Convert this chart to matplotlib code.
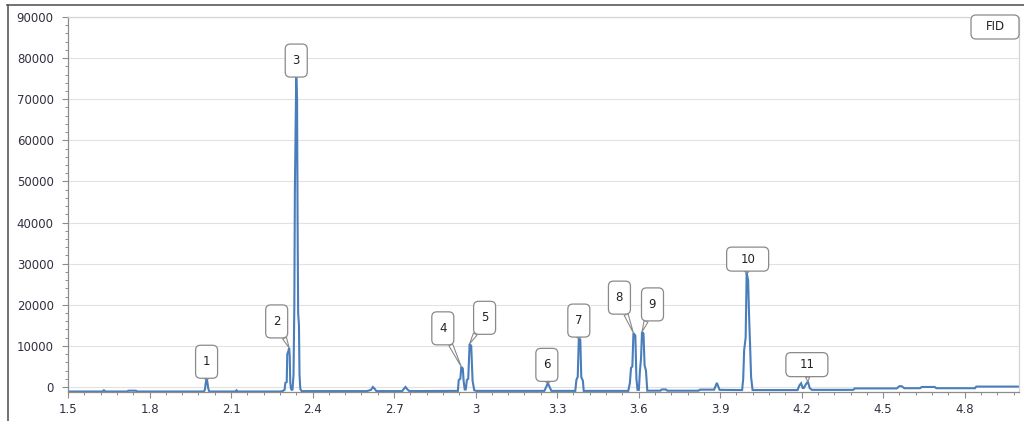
import numpy as np
import matplotlib
matplotlib.use('Agg')
import matplotlib.pyplot as plt
from matplotlib.patches import BoxStyle
from matplotlib.lines import Line2D
from matplotlib.ticker import MultipleLocator

# chromatogram trace (retention time in min, FID signal)
rt = [1.500, 1.627, 1.632, 1.638, 1.718, 1.722, 1.750, 1.754, 2.000, 2.004,
      2.007, 2.010, 2.013, 2.016, 2.020, 2.116, 2.120, 2.125, 2.280, 2.290,
      2.297, 2.300, 2.305, 2.307, 2.310, 2.314, 2.316, 2.318, 2.321, 2.326,
      2.330, 2.333, 2.335, 2.337, 2.340, 2.343, 2.345, 2.347, 2.350, 2.352,
      2.355, 2.360, 2.600, 2.615, 2.622, 2.628, 2.635, 2.730, 2.738, 2.742,
      2.748, 2.756, 2.935, 2.938, 2.944, 2.9475, 2.953, 2.956, 2.960, 2.964,
      2.968, 2.973, 2.978, 2.984, 2.989, 2.995, 3.003, 3.253, 3.260, 3.266,
      3.271, 3.279, 3.367, 3.371, 3.376, 3.380, 3.3855, 3.389, 3.395, 3.398,
      3.562, 3.568, 3.572, 3.577, 3.581, 3.588, 3.592, 3.596, 3.601, 3.605,
      3.609, 3.6125, 3.618, 3.622, 3.627, 3.632, 3.680, 3.686, 3.700, 3.706,
      3.820, 3.826, 3.878, 3.884, 3.888, 3.892, 3.898, 3.981, 3.985, 3.9885,
      3.994, 3.9976, 4.003, 4.0068, 4.0104, 4.014, 4.0195, 4.185, 4.192, 4.198,
      4.204, 4.208, 4.215, 4.223, 4.230, 4.238, 4.390, 4.395, 4.550, 4.560,
      4.568, 4.578, 4.636, 4.642, 4.690, 4.696, 4.838, 4.843, 5.000]
fid = [-1100, -1100, -800, -1100, -1100, -900, -900, -1100, -1100, -600,
       1000, 2000, 1200, -300, -1100, -1100, -800, -1100, -1100, -1000,
       -700, 1000, 1200, 8000, 8500, 9500, 7500, 1000, -500, -800,
       3000, 20000, 48000, 60000, 76000, 70000, 40000, 18000, 15000, 3000,
       -500, -1000, -1000, -700, 0, -400, -1000, -1000, -300, 0,
       -500, -1000, -950, 1700, 2000, 4900, 4500, 1500, -600, -600,
       1700, 2000, 10500, 10000, 1500, -800, -950, -950, 0, 1000,
       200, -950, -950, 1700, 2500, 11900, 11500, 2400, 1500, -950,
       -950, 1000, 4600, 5000, 13100, 12500, 2000, -700, -700, 4000,
       7000, 13400, 13000, 5300, 4000, -900, -900, -600, -600, -900,
       -900, -650, -650, 300, 1000, 300, -700, -750, 2000, 9000,
       12000, 27700, 26000, 16800, 10000, 2400, -750, -750, 400, 900,
       -250, -250, 600, 1300, -300, -700, -700, -350, -350, 200,
       200, -300, -300, 0, 0, -300, -300, 100, 100]

peak_names = ['1', '2', '3', '4', '5', '6', '7', '8', '9', '10', '11']
peak_rt = [2.010, 2.314, 2.340, 2.9475, 2.978, 3.266, 3.380, 3.581, 3.6125, 3.9976, 4.223]

x_ticks = [1.5, 1.8, 2.1, 2.4, 2.7, 3.0, 3.3, 3.6, 3.9, 4.2, 4.5, 4.8]
x_labels = ['1.5', '1.8', '2.1', '2.4', '2.7', '3', '3.3', '3.6', '3.9', '4.2', '4.5', '4.8']
y_ticks = list(range(0, 90001, 10000))

# label box offsets from the peak top, in pixels
offsets = [(0, 17), (-12.5, 26.5), (0, 14), (-18.5, 38.5), (15, 26), (-1, 18),
           (0, 17.5), (-14, 35.5), (10.5, 27.5), (1, 14), (-1, 17)]


class FixedBox:
    # rounded box of fixed pixel size centred on the text
    def __init__(self, w, h, r=5):
        self.w, self.h, self.r = w, h, r

    def __call__(self, x0, y0, width, height, mutation_size):
        cx = x0 + width / 2
        cy = y0 + height / 2
        rnd = BoxStyle.Round(pad=0, rounding_size=self.r / mutation_size)
        return rnd(cx - self.w / 2, cy - self.h / 2, self.w, self.h, mutation_size)


W, H = 1024, 421
fig = plt.figure(figsize=(W / 100, H / 100), dpi=100)
ax = fig.add_axes([68 / W, 1 - 392 / H, (1019 - 68) / W, (392 - 17) / H])

ax.plot(rt, fid, color='#4a7ebb', lw=1.5, solid_joinstyle='miter', zorder=2)

ax.set_xlim(1.5, 5.0)
ax.set_ylim(-1220, 90000)
ax.set_xticks(x_ticks)
ax.set_xticklabels(x_labels)
ax.set_yticks(y_ticks)
ax.xaxis.set_minor_locator(MultipleLocator(0.06))
ax.yaxis.set_minor_locator(MultipleLocator(2000))
ax.grid(axis='y', which='major', color='#e2e2e2', lw=0.8, zorder=0)
ax.set_axisbelow(True)

for s in ['left', 'bottom']:
    ax.spines[s].set_color('#8c8c8c')
    ax.spines[s].set_linewidth(0.9)
for s in ['top', 'right']:
    ax.spines[s].set_color('#d4d4d4')
    ax.spines[s].set_linewidth(0.9)

ax.tick_params(which='major', length=4.3, width=0.8, color='#8c8c8c',
               labelsize=8.5, labelcolor='#303040')
ax.tick_params(which='minor', length=2.2, width=0.7, color='#8c8c8c')
ax.tick_params(axis='y', which='major', pad=6)
ax.tick_params(axis='x', which='major', pad=3.5)

rt_arr = np.array(rt)
fid_arr = np.array(fid)
for name, r, (dx, dy) in zip(peak_names, peak_rt, offsets):
    top = fid_arr[np.abs(rt_arr - r) < 0.006].max()
    box = FixedBox(22, 33) if len(name) == 1 else FixedBox(42, 24)
    ax.annotate(name, xy=(r, top), xytext=(dx, dy), textcoords='offset pixels',
                ha='center', va='center', fontsize=8.5, color='#222222',
                bbox=dict(boxstyle=box, fc='white', ec='#8a8a8a', lw=0.9),
                arrowprops=dict(arrowstyle='wedge,tail_width=0.35', fc='white',
                                ec='#8a8a8a', lw=0.8, shrinkA=0, shrinkB=0),
                zorder=5)

fig.text(995 / W, 1 - 27 / H, 'FID', ha='center', va='center', fontsize=8.5,
         color='#222222',
         bbox=dict(boxstyle=FixedBox(48, 24), fc='white', ec='#8a8a8a', lw=0.9))

# outer panel frame
fig.add_artist(Line2D([7 / W, 1], [1 - 4.5 / H, 1 - 4.5 / H], color='#5a5a5a', lw=1.2))
fig.add_artist(Line2D([7.5 / W, 7.5 / W], [0, 1 - 4.5 / H], color='#5a5a5a', lw=1.2))

fig.savefig('out.png', dpi=100)
